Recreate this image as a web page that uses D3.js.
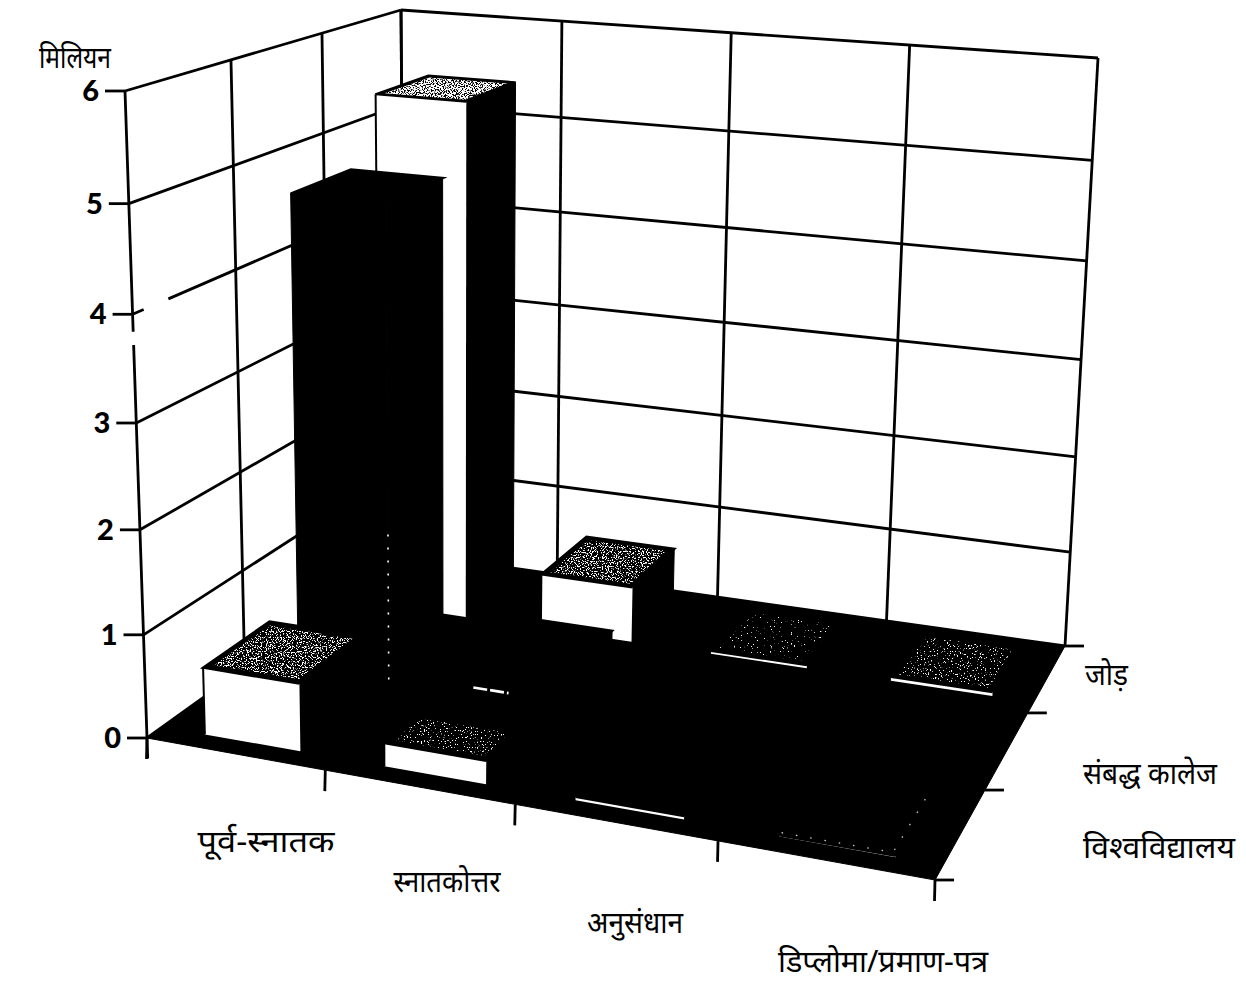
<!DOCTYPE html>
<html>
<head>
<meta charset="utf-8">
<style>
html,body{margin:0;padding:0;background:#fff;}
svg{display:block;}
text{fill:#000;}
</style>
<script src="https://cdn.jsdelivr.net/npm/d3@7/dist/d3.min.js"></script>
</head>
<body>
<svg id="chart" width="1246" height="984"></svg>
<script>
// Enrolment by level and institution type, in millions
const categories = ["पूर्व-स्नातक", "स्नातकोत्तर", "अनुसंधान", "डिप्लोमा/प्रमाण-पत्र"];
const seriesNames = ["विश्वविद्यालय", "संबद्ध कालेज", "जोड़"];
const universityValues = [0.65, 0.22, 0.03, 0.01];
const collegeValues = [4.72, 0.32, 0.02, 0.02];
const totalValues = [5.38, 0.58, 0.03, 0.04];
const valueTicks = [0, 1, 2, 3, 4, 5, 6];
const axisTitle = "मिलियन";

const rows = [universityValues, collegeValues, totalValues];

// Box corners on screen: floor and ceiling quads of the 3D chart box
const floorQuad = [[147,738],[935,880],[1065,646],[405,553]];
const ceilQuad  = [[125,91],[979,164],[1098,58],[401,10]];

function quadMap(q){
  const [[x0,y0],[x1,y1],[x2,y2],[x3,y3]] = q;
  const dx1=x1-x2,dx2=x3-x2,sx=x0-x1+x2-x3,dy1=y1-y2,dy2=y3-y2,sy=y0-y1+y2-y3;
  const den=dx1*dy2-dx2*dy1;
  const g=(sx*dy2-dx2*sy)/den,h=(dx1*sy-sx*dy1)/den;
  const a=x1-x0+g*x1,b=x3-x0+h*x3,d=y1-y0+g*y1,e=y3-y0+h*y3;
  return (u,v)=>{const w=g*u+h*v+1;return [(a*u+b*v+x0)/w,(d*u+e*v+y0)/w];};
}
const floorMap=quadMap(floorQuad), ceilMap=quadMap(ceilQuad);

const uScale=d3.scaleLinear().domain([0,categories.length]).range([0,1]);
const vScale=d3.scaleLinear().domain([0,seriesNames.length]).range([0,1]);
const hScale=d3.scaleLinear().domain([0,6]).range([0,1]);
const foreshorten=1.054;

// Category position, row position and value to a screen point
function project(c,r,val){
  const u=uScale(c),v=vScale(r),s=hScale(val);
  const t=s/(s+foreshorten*(1-s));
  const a=floorMap(u,v),b=ceilMap(u,v);
  return [a[0]+(b[0]-a[0])*t,a[1]+(b[1]-a[1])*t];
}

const svg=d3.select("#chart");
const defs=svg.append("defs");

// Stippled grey for the bar tops, at several densities
function speckle(id,freq,offset){
  const f=defs.append("filter").attr("id",id).attr("x",0).attr("y",0).attr("width",1).attr("height",1);
  f.append("feTurbulence").attr("type","fractalNoise").attr("baseFrequency",freq).attr("numOctaves",2).attr("seed",7).attr("result","n");
  f.append("feColorMatrix").attr("in","n").attr("type","matrix")
    .attr("values",`0 0 0 0 1  0 0 0 0 1  0 0 0 0 1  14 0 0 0 ${offset}`).attr("result","d");
  f.append("feComposite").attr("in","d").attr("in2","SourceAlpha").attr("operator","in");
}
speckle("speckDense",0.9,-6.0);
speckle("speckMid",0.8,-7.6);
speckle("speckThin",0.7,-8.8);
speckle("speckFaint",0.7,-9.6);

const poly=d3.line();
const closed=pts=>poly(pts)+"Z";
const lineColor="#000", lineW=2.8;
const gridG=svg.append("g").attr("fill","none").attr("stroke",lineColor).attr("stroke-width",lineW);

function seg(a,b,w){
  gridG.append("path").attr("d",poly([a,b])).attr("stroke-width",w||lineW);
}

// Left wall: breaks in the line at value 4 and in the front axis
const leftWallBreaks={4:[[0,0.1],[0.33,3]]};
valueTicks.forEach(val=>{
  (leftWallBreaks[val]||[[0,3]]).forEach(([a,b])=>seg(project(0,a,val),project(0,b,val)));
});
d3.range(1,4).forEach(r=>seg(project(0,r,0),project(0,r,6)));
[[-0.2,3.72],[3.84,6]].forEach(([a,b])=>seg(project(0,0,a),project(0,0,b)));

// Back wall
valueTicks.forEach(val=>seg(project(0,3,val),project(4,3,val)));
d3.range(0,5).forEach(c=>seg(project(c,3,0),project(c,3,6)));

// Value ticks and labels
valueTicks.forEach(val=>{
  const p=project(0,0,val);
  seg([p[0]-20,p[1]],p);
  svg.append("text").attr("x",p[0]-26).attr("y",p[1]+10).attr("text-anchor","end")
    .attr("font-family","Lato, 'Open Sans', sans-serif").attr("font-weight",900).attr("font-size",29).text(val);
});

// Floor
svg.append("path").attr("d",closed(floorQuad)).attr("fill","#000").attr("stroke","#000").attr("stroke-width",1);

// Category and row ticks
d3.range(0,5).forEach(c=>{
  const p=project(c,0,0);
  seg(p,[p[0]-0.5,p[1]+21]);
});
d3.range(0,4).forEach(r=>{
  const p=project(4,r,0);
  seg(p,[p[0]+19,p[1]]);
});

// Bars, back row first so that nearer bars cover farther ones
const barSpan=[0.245,0.785], barDepth=[0.15,0.84];
const toneOf={dense:"speckDense",mid:"speckMid",thin:"speckThin",faint:"speckFaint"};
const topTones=[["mid","thin",null,null],[null,null,null,null],["dense","mid","faint","thin"]];
const topDepthShown=[[1,0.5,1,1],[1,1,1,1],[1,1,1,1]];
const barG=svg.append("g");
const P=project;
[2,1,0].forEach(r=>{
  const isBlack=r===1;
  rows[r].forEach((val,c)=>{
    const u0=c+barSpan[0],u1=c+barSpan[1],v0=r+barDepth[0],v1=r+barDepth[1];
    const front=[P(u0,v0,0),P(u1,v0,0),P(u1,v0,val),P(u0,v0,val)];
    const side=[P(u1,v0,0),P(u1,v1,0),P(u1,v1,val),P(u1,v0,val)];
    const top=[P(u0,v0,val),P(u1,v0,val),P(u1,v1,val),P(u0,v1,val)];
    barG.append("path").attr("d",closed(side)).attr("fill","#000").attr("stroke","#000").attr("stroke-width",1);
    barG.append("path").attr("d",closed(top)).attr("fill","#000").attr("stroke","#000").attr("stroke-width",2.5);
    const tone=topTones[r][c];
    if(tone){
      // Stipple stays inside a dark margin along the top's edges
      const iu0=u0+0.03,iu1=u1-0.03,iv0=v0+0.05;
      const iv1=iv0+(v1-0.05-iv0)*topDepthShown[r][c];
      const inner=[P(iu0,iv0,val),P(iu1,iv0,val),P(iu1,iv1,val),P(iu0,iv1,val)];
      barG.append("path").attr("d",closed(inner)).attr("fill","#fff").attr("filter",`url(#${toneOf[tone]})`);
    }
    if(isBlack){
      barG.append("path").attr("d",closed(front)).attr("fill","#000").attr("stroke","#000").attr("stroke-width",1);
    } else {
      barG.append("path").attr("d",closed(front)).attr("fill","#fff");
      barG.append("path").attr("d",poly([front[3],front[2]])).attr("stroke","#000").attr("stroke-width",2).attr("fill","none");
      if(val>0.1) barG.append("path").attr("d",poly([front[0],front[3]])).attr("stroke","#000").attr("stroke-width",2).attr("fill","none");
    }
  });
});

// Faint edge marks on the black bars and the lowest front bar
const faint=(pts,dash,w,col)=>barG.append("path").attr("d",poly(pts)).attr("fill","none")
  .attr("stroke",col||"#fff").attr("stroke-width",w).attr("stroke-dasharray",dash);
faint([P(barSpan[1],1+barDepth[0],0),P(barSpan[1],1+barDepth[0],1.5)],"2 11",1.6);
faint([P(1+barSpan[0]+0.03,1+barDepth[0],0.06),P(1+barSpan[0]+0.23,1+barDepth[0],0.06)],"14 3",2.6);
const lastFront=[P(3+barSpan[0],barDepth[0]+0.03,0.01),P(3+barSpan[1]-0.02,barDepth[0]+0.03,0.01),P(3+barSpan[1]-0.02,barDepth[1],0.01)];
faint(lastFront,"1.5 13",1.3,"#ccc");

// Text labels, each set to the run length it occupies
const devFont="'Noto Sans', 'Noto Serif Devanagari', serif";
const label=(x,y,txt,anchor,size,len)=>svg.append("text").attr("x",x).attr("y",y).attr("text-anchor",anchor||"start")
  .attr("font-family",devFont).attr("font-size",size)
  .attr("textLength",len).attr("lengthAdjust","spacingAndGlyphs").text(txt);
label(75,68,axisTitle,"middle",30,72);
const catLabelPos=[[266,852],[447,892],[635,933],[883,972]];
const catLabelLen=[137,107,96,210];
categories.forEach((t,i)=>label(catLabelPos[i][0],catLabelPos[i][1],t,"middle",31,catLabelLen[i]));
const seriesLabelPos=[[1083,858],[1083,784],[1085,685]];
const seriesLabelLen=[152,134,43];
seriesNames.forEach((t,i)=>label(seriesLabelPos[i][0],seriesLabelPos[i][1],t,"start",31,seriesLabelLen[i]));
</script>
</body>
</html>
